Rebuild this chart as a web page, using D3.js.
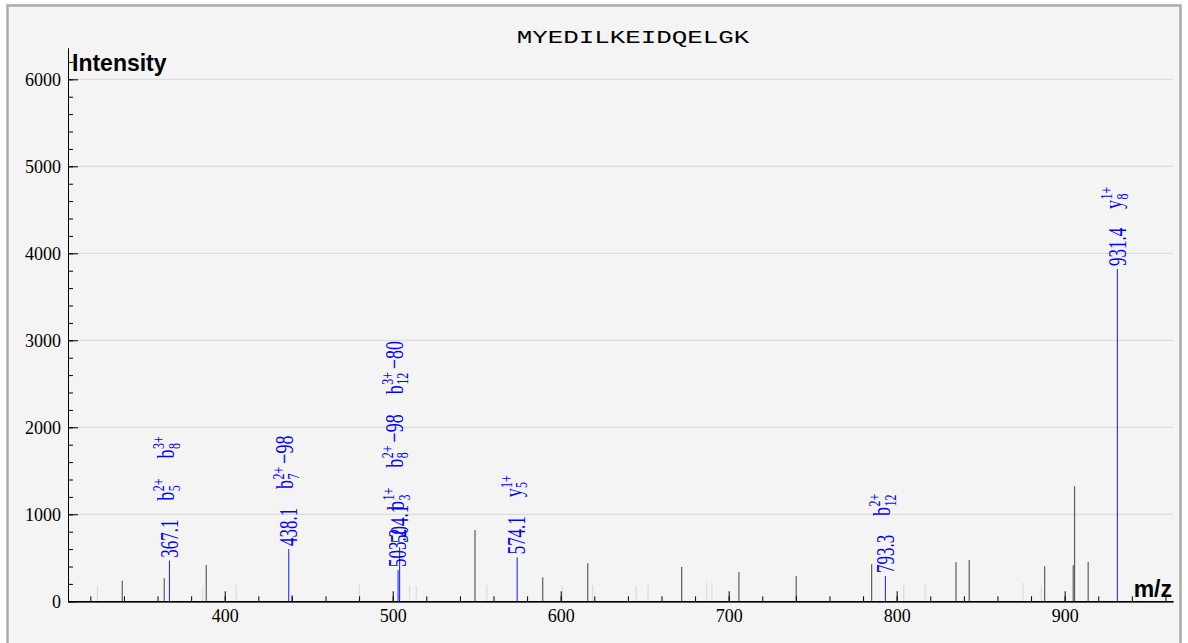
<!DOCTYPE html>
<html><head><meta charset="utf-8">
<script src="https://cdn.jsdelivr.net/npm/d3@7"></script>
<style>
html,body{margin:0;padding:0;background:#fff;}
svg{display:block;}
</style></head><body>
<svg id="chart" width="1188" height="643"></svg>
<script>
// ---------------- data ----------------
const title = "MYEDILKEIDQELGK";
const xTickValues = [400, 500, 600, 700, 800, 900];
const yTickValues = [0, 1000, 2000, 3000, 4000, 5000, 6000];

// unannotated peaks (dark)
const darkMz  = [339.0, 364.0, 389.0, 440.0, 549.0, 589.3, 616.1, 672.0, 706.1, 740.2, 785.1, 835.3, 843.2, 888.1, 905.1, 905.9, 914.0];
const darkInt = [237, 264, 417, 70, 819, 276, 437, 394, 337, 291, 425, 452, 475, 402, 414, 1322, 452];
// unannotated peaks (faint)
const lightMz  = [324.2, 386.9, 406.9, 480.1, 510.1, 514.0, 556.0, 601.0, 619.0, 645.0, 652.0, 686.9, 690.0, 804.2, 817.0, 875.2, 886.1];
const lightInt = [176, 176, 187, 200, 176, 176, 187, 176, 187, 176, 187, 222, 202, 191, 199, 210, 180];
// annotated peaks
const annMz    = [367.1, 438.1, 503.2, 504.1, 574.1, 793.3, 931.4];
const annInt   = [467, 601, 360, 620, 505, 291, 3819];
const annText  = ["367.1", "438.1", "503.2", "504.1", "574.1", "793.3", "931.4"];
// ion annotations: [ion type, index, charge, neutral loss]
const annIons  = [
  [["b", "5", "2+", ""], ["b", "8", "3+", ""]],
  [["b", "7", "2+", "98"]],
  [["b", "8", "2+", "98"], ["b", "12", "3+", "80"]],
  [["b", "3", "1+", ""]],
  [["y", "5", "1+", ""]],
  [["b", "12", "2+", ""]],
  [["y", "8", "1+", ""]]
];

// ---------------- layout ----------------
const svg = d3.select("#chart");
const plotL = 68, plotR = 1173, plotB = 601.3, plotT = 48;
const x = d3.scaleLinear().domain([306.7, 964.5]).range([plotL, plotR]);
const y = d3.scaleLinear().domain([0, 6360]).range([plotB, plotT]);
const STRETCH = 1.45;
const BLUE = "#0000ff";

// frame
svg.append("rect").attr("x", 7.5).attr("y", 5.5).attr("width", 1173).attr("height", 660)
  .attr("fill", "#f4f4f4").attr("stroke", "#ababab").attr("stroke-width", 2.5);

// title
svg.append("text").attr("transform", `translate(633,43) scale(1.36,1)`)
  .attr("text-anchor", "middle").style("font-family", "'Liberation Mono', monospace")
  .style("font-size", "19px").attr("fill", "#000").text(title);

// gridlines
svg.append("g").selectAll("line").data(yTickValues.filter(d => d > 0)).join("line")
  .attr("x1", plotL).attr("x2", plotR).attr("y1", d => y(d)).attr("y2", d => y(d))
  .attr("stroke", "#d8d8d8").attr("stroke-width", 1);

// peaks
const peakG = svg.append("g");
peakG.selectAll("line.l").data(d3.zip(lightMz, lightInt)).join("line").attr("class", "l")
  .attr("x1", d => x(d[0])).attr("x2", d => x(d[0])).attr("y1", y(0)).attr("y2", d => y(d[1]))
  .attr("stroke", "#dcdcdc").attr("stroke-width", 1.2);
peakG.selectAll("line.d").data(d3.zip(darkMz, darkInt)).join("line").attr("class", "d")
  .attr("x1", d => x(d[0])).attr("x2", d => x(d[0])).attr("y1", y(0)).attr("y2", d => y(d[1]))
  .attr("stroke", "#5e5e5e").attr("stroke-width", 1.2);
peakG.selectAll("line.a").data(d3.zip(annMz, annInt)).join("line").attr("class", "a")
  .attr("x1", d => x(d[0])).attr("x2", d => x(d[0])).attr("y1", y(0)).attr("y2", d => y(d[1]))
  .attr("stroke", "#2a2aff").attr("stroke-width", 1.1);

// axes
const fontSerif = "'Liberation Serif', 'Times New Roman', serif";
const yAxisMinor = d3.axisLeft(y).tickValues(d3.range(0, 6360, 200)).tickSize(-5).tickSizeOuter(0).tickFormat("");
const yAxis = d3.axisLeft(y).tickValues(yTickValues).tickSize(-10).tickSizeOuter(0).tickPadding(7).tickFormat(d3.format("d"));
const xAxisMinor = d3.axisBottom(x).tickValues(d3.range(320, 965, 20)).tickSize(-5).tickSizeOuter(0).tickFormat("");
const xAxis = d3.axisBottom(x).tickValues(xTickValues).tickSize(-10).tickSizeOuter(0).tickPadding(8).tickFormat(d3.format("d"));

const gy1 = svg.append("g").attr("transform", `translate(${plotL},0)`).call(yAxisMinor);
const gy = svg.append("g").attr("transform", `translate(${plotL},0)`).call(yAxis);
const gx1 = svg.append("g").attr("transform", `translate(0,${plotB})`).call(xAxisMinor);
const gx = svg.append("g").attr("transform", `translate(0,${plotB})`).call(xAxis);
[gy1, gy, gx1, gx].forEach(g => {
  g.selectAll("line").attr("stroke", "#000");
  g.select(".domain").attr("stroke", "#000");
  g.selectAll("text").style("font-family", fontSerif).style("font-size", "18px").attr("fill", "#000");
});
gx.select(".domain").attr("stroke-width", 1.6);

// axis titles
svg.append("text").attr("x", 72).attr("y", 71).style("font-family", "'Liberation Sans', Arial, sans-serif")
  .style("font-weight", "bold").style("font-size", "23px").attr("fill", "#000").text("Intensity");
svg.append("text").attr("x", 1172).attr("y", 597).attr("text-anchor", "end")
  .style("font-family", "'Liberation Sans', Arial, sans-serif")
  .style("font-weight", "bold").style("font-size", "23px").attr("fill", "#000").text("m/z");

// ---------------- annotations ----------------
const labG = svg.append("g").attr("fill", BLUE).style("font-family", fontSerif);

function rotGroup(px, py) {
  return labG.append("g").attr("transform", `translate(${px},${py}) scale(${STRETCH},1) rotate(-90)`);
}
function massLabel(px, py, txt) {
  const g = rotGroup(px, py);
  const t = g.append("text").attr("x", 0).attr("y", 5.6).style("font-size", "17px").text(txt);
  return t.node().getComputedTextLength();
}
function ionLabel(px, py, ion) {
  const g = rotGroup(px, py);
  const base = g.append("text").attr("x", 0).attr("y", 3.2).style("font-size", "18px").text(ion[0]);
  const w = base.node().getComputedTextLength();
  const sup = g.append("text").attr("x", w + 0.5).attr("y", -3.6).style("font-size", "12px").text(ion[2]);
  const sub = g.append("text").attr("x", w + 0.5).attr("y", 7).style("font-size", "12px").text(ion[1]);
  let end = w + 0.5 + Math.max(sup.node().getComputedTextLength(), sub.node().getComputedTextLength());
  if (ion[3]) {
    const s = g.append("text").attr("x", end + 3).attr("y", 3.2).style("font-size", "18px").text("\u2212" + ion[3]);
    end = end + 3 + s.node().getComputedTextLength();
  }
  return end;
}

// group annotated peaks that are very close together
const groups = [];
annMz.forEach((m, i) => {
  const last = groups[groups.length - 1];
  if (last && m - annMz[last[last.length - 1]] < 3) last.push(i); else groups.push([i]);
});
groups.forEach(grp => {
  const top0 = y(annInt[grp[0]]);
  let start = top0 - 3;
  grp.forEach((i, k) => {
    const s = k === 0 ? start : start - 24;
    massLabel(x(annMz[i]), s, annText[i]);
    start = s;
  });
  let ionStart = top0 - 60;
  grp.slice().reverse().forEach(i => {
    annIons[i].forEach(ion => {
      const len = ionLabel(x(annMz[i]), ionStart, ion);
      ionStart = ionStart - len - 20;
    });
  });
});
</script>
</body></html>
